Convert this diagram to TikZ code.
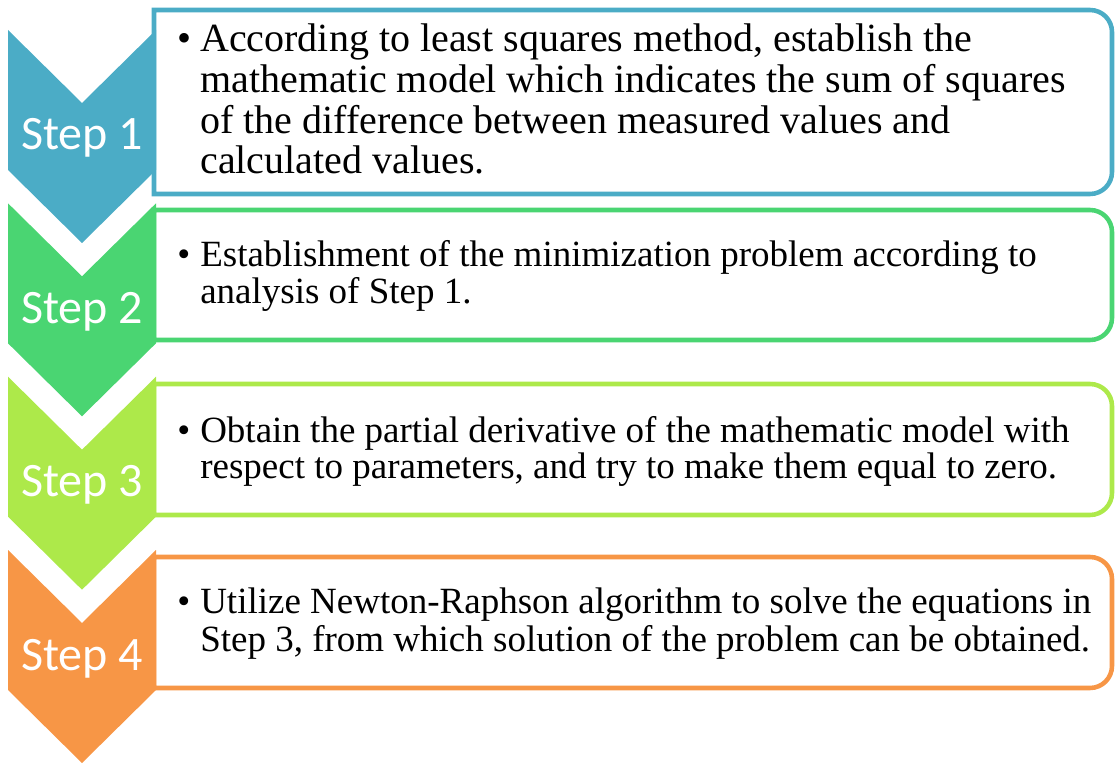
\documentclass[tikz,border=0pt]{standalone}
\usepackage{fontspec}
\setmainfont{Liberation Serif}
\newfontfamily\stepfont{Carlito}
\definecolor{cblue}{HTML}{4BACC6}
\definecolor{cgreen}{HTML}{4AD572}
\definecolor{clime}{HTML}{ADE94A}
\definecolor{corange}{HTML}{F79646}
\newcommand\stepbox[3]{% colour, top, bottom
  \draw[boxline=#1] (154,#3) -- (154,#2) -- (1090,#2)
    arc[start angle=-90,end angle=0,radius=22] -- (1112,{#3-22})
    arc[start angle=0,end angle=90,radius=22] -- cycle;}
\newcommand\chevron[2]{% colour, top
  \fill[#1] (8,#2) -- (82,{#2+73}) -- (156,#2) -- (156,{#2+140}) -- (82,{#2+213}) -- (8,{#2+140}) -- cycle;}
\begin{document}
\begin{tikzpicture}[x=0.75pt,y=-0.75pt,
  boxline/.style={draw=#1,line width=3.4pt,fill=white},
  steplbl/.style={text=white,font=\stepfont\fontsize{36}{36}\selectfont,anchor=base,inner sep=0},
  bul/.style={anchor=base west,inner sep=0},
  bodytxt/.style={anchor=base west,inner sep=0}]
\useasboundingbox (0,0) rectangle (1115,763);
\stepbox{cblue}{10}{194}
\stepbox{cgreen}{210}{340}
\stepbox{clime}{384}{515}
\stepbox{corange}{557}{688}
\chevron{cblue}{30}
\chevron{cgreen}{203.3}
\chevron{clime}{376.7}
\chevron{corange}{550}
\node[steplbl] (s1) at (82,150) {Step 1};
\node[steplbl] (s2) at (82,323.3) {Step 2};
\node[steplbl] (s3) at (82,496.7) {Step 3};
\node[steplbl] (s4) at (82,670) {Step 4};
\node[bul,font=\fontsize{30}{30}\selectfont] (b1) at (177,52) {\textbullet};
\node[bodytxt] (t1) at (200,52) {\parbox[t]{700pt}{\fontsize{30}{30.5}\selectfont
According to least squares method, establish the\\
mathematic model which indicates the sum of squares\\
of the difference between measured values and\\
calculated values.}};
\node[bul,font=\fontsize{27.75}{27.75}\selectfont] (b2) at (177,267) {\textbullet};
\node[bodytxt] (t2) at (200,267) {\parbox[t]{700pt}{\fontsize{27.75}{27.3}\selectfont
Establishment of the minimization problem according to\\
analysis of Step 1.}};
\node[bul,font=\fontsize{27.75}{27.75}\selectfont] (b3) at (177,442) {\textbullet};
\node[bodytxt] (t3) at (200,442) {\parbox[t]{700pt}{\fontsize{27.75}{27.3}\selectfont
Obtain the partial derivative of the mathematic model with\\
respect to parameters, and try to make them equal to zero.}};
\node[bul,font=\fontsize{27.75}{27.75}\selectfont] (b4) at (177,613) {\textbullet};
\node[bodytxt] (t4) at (200,613) {\parbox[t]{700pt}{\fontsize{27.75}{28.5}\selectfont
Utilize Newton-Raphson algorithm to solve the equations in\\
Step 3, from which solution of the problem can be obtained.}};
\end{tikzpicture}
\end{document}
